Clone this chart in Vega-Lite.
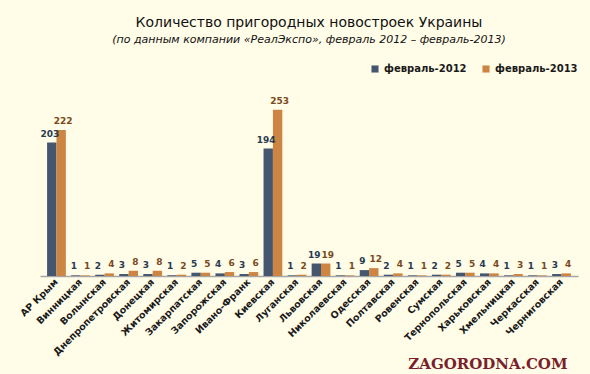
{
  "$schema": "https://vega.github.io/schema/vega-lite/v6.json",
  "autosize": "none",
  "width": 538,
  "height": 184,
  "padding": {"left": 40, "top": 92, "right": 12, "bottom": 98},
  "background": "#FFFCE8",
  "title": {
    "text": "Количество пригородных новостроек Украины",
    "subtitle": "(по данным компании «РеалЭкспо», февраль 2012 – февраль-2013)",
    "anchor": "middle",
    "offset": 19,
    "font": "DejaVu Sans",
    "fontSize": 14,
    "fontWeight": "normal",
    "color": "#111111",
    "subtitleFont": "DejaVu Sans",
    "subtitleFontSize": 11,
    "subtitleFontStyle": "italic",
    "subtitleColor": "#111111",
    "subtitlePadding": 4
  },
  "data": {
    "values": [
      {"region": "АР Крым", "year": "февраль-2012", "value": 203},
      {"region": "АР Крым", "year": "февраль-2013", "value": 222},
      {"region": "Винницкая", "year": "февраль-2012", "value": 1},
      {"region": "Винницкая", "year": "февраль-2013", "value": 1},
      {"region": "Волынская", "year": "февраль-2012", "value": 2},
      {"region": "Волынская", "year": "февраль-2013", "value": 4},
      {"region": "Днепропетровская", "year": "февраль-2012", "value": 3},
      {"region": "Днепропетровская", "year": "февраль-2013", "value": 8},
      {"region": "Донецкая", "year": "февраль-2012", "value": 3},
      {"region": "Донецкая", "year": "февраль-2013", "value": 8},
      {"region": "Житомирская", "year": "февраль-2012", "value": 1},
      {"region": "Житомирская", "year": "февраль-2013", "value": 2},
      {"region": "Закарпатская", "year": "февраль-2012", "value": 5},
      {"region": "Закарпатская", "year": "февраль-2013", "value": 5},
      {"region": "Запорожская", "year": "февраль-2012", "value": 4},
      {"region": "Запорожская", "year": "февраль-2013", "value": 6},
      {"region": "Ивано-Франк", "year": "февраль-2012", "value": 3},
      {"region": "Ивано-Франк", "year": "февраль-2013", "value": 6},
      {"region": "Киевская", "year": "февраль-2012", "value": 194},
      {"region": "Киевская", "year": "февраль-2013", "value": 253},
      {"region": "Луганская", "year": "февраль-2012", "value": 1},
      {"region": "Луганская", "year": "февраль-2013", "value": 2},
      {"region": "Львовская", "year": "февраль-2012", "value": 19},
      {"region": "Львовская", "year": "февраль-2013", "value": 19},
      {"region": "Николаевская", "year": "февраль-2012", "value": 1},
      {"region": "Николаевская", "year": "февраль-2013", "value": 1},
      {"region": "Одесская", "year": "февраль-2012", "value": 9},
      {"region": "Одесская", "year": "февраль-2013", "value": 12},
      {"region": "Полтавская", "year": "февраль-2012", "value": 2},
      {"region": "Полтавская", "year": "февраль-2013", "value": 4},
      {"region": "Ровенская", "year": "февраль-2012", "value": 1},
      {"region": "Ровенская", "year": "февраль-2013", "value": 1},
      {"region": "Сумская", "year": "февраль-2012", "value": 2},
      {"region": "Сумская", "year": "февраль-2013", "value": 2},
      {"region": "Тернопольская", "year": "февраль-2012", "value": 5},
      {"region": "Тернопольская", "year": "февраль-2013", "value": 5},
      {"region": "Харьковская", "year": "февраль-2012", "value": 4},
      {"region": "Харьковская", "year": "февраль-2013", "value": 4},
      {"region": "Хмельницкая", "year": "февраль-2012", "value": 1},
      {"region": "Хмельницкая", "year": "февраль-2013", "value": 3},
      {"region": "Черкасская", "year": "февраль-2012", "value": 1},
      {"region": "Черкасская", "year": "февраль-2013", "value": 1},
      {"region": "Черниговская", "year": "февраль-2012", "value": 3},
      {"region": "Черниговская", "year": "февраль-2013", "value": 4}
    ]
  },
  "encoding": {
    "x": {
      "field": "region",
      "type": "nominal",
      "sort": null,
      "scale": {"paddingInner": 0.22, "paddingOuter": 0.295},
      "axis": {
        "title": "ZAGORODNA.COM",
        "titleFont": "DejaVu Serif",
        "titleFontSize": 15,
        "titleFontWeight": "bold",
        "titleColor": "#7A1F2B",
        "titleAnchor": "end",
        "titleAlign": "right",
        "titleX": 527,
        "titleY": 80,
        "labelAngle": -45,
        "labelAlign": "right",
        "labelBaseline": "middle",
        "labelFont": "DejaVu Sans",
        "labelFontSize": 9.5,
        "labelFontWeight": "bold",
        "labelColor": "#1a1a1a",
        "labelPadding": 4,
        "ticks": false,
        "domainColor": "#A6A6A6",
        "domainWidth": 1.5,
        "grid": false
      }
    },
    "xOffset": {"field": "year", "type": "nominal", "scale": {"paddingInner": 0}},
    "y": {
      "field": "value",
      "type": "quantitative",
      "scale": {"domain": [0, 280]},
      "axis": null
    }
  },
  "layer": [
    {
      "mark": {"type": "bar"},
      "encoding": {
        "color": {
          "field": "year",
          "type": "nominal",
          "scale": {"range": ["#45566F", "#CD8543"]},
          "legend": {
            "title": null,
            "orient": "none",
            "direction": "horizontal",
            "legendX": 330,
            "legendY": -28,
            "symbolType": "square",
            "symbolSize": 50,
            "labelFont": "DejaVu Sans",
            "labelFontSize": 10,
            "labelFontWeight": "bold",
            "labelColor": "#1a1a1a",
            "columnPadding": 14
          }
        }
      }
    },
    {
      "transform": [{"filter": "datum.year === 'февраль-2012'"}],
      "mark": {"type": "text", "baseline": "bottom", "dy": -4, "dx": -2, "font": "DejaVu Sans", "fontSize": 9, "fontWeight": "bold", "color": "#283A52"},
      "encoding": {
        "text": {"field": "value", "type": "quantitative"}
      }
    },
    {
      "transform": [{"filter": "datum.year === 'февраль-2013'"}],
      "mark": {"type": "text", "baseline": "bottom", "dy": -4, "dx": 2, "font": "DejaVu Sans", "fontSize": 9, "fontWeight": "bold", "color": "#7A4A1C"},
      "encoding": {
        "text": {"field": "value", "type": "quantitative"}
      }
    }
  ],
  "config": {"view": {"stroke": null}}
}
